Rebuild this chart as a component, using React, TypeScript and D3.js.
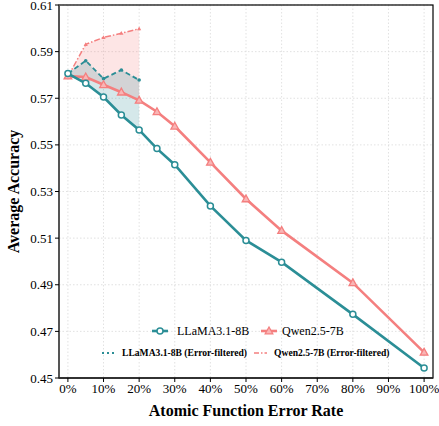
import React from "react";
import * as d3 from "d3";

const errorRates = [0, 5, 10, 15, 20, 25, 30, 40, 50, 60, 80, 100];
const llama = [0.5806, 0.5764, 0.5705, 0.5628, 0.5564, 0.5484, 0.5415, 0.5238, 0.5090, 0.4997, 0.4773, 0.4543];
const qwen = [0.5795, 0.5791, 0.5758, 0.5726, 0.5691, 0.5642, 0.5580, 0.5425, 0.5268, 0.5132, 0.4908, 0.4610];
const filteredRates = [0, 5, 10, 15, 20];
const llamaFiltered = [0.5806, 0.5861, 0.5784, 0.5821, 0.5778];
const qwenFiltered = [0.5793, 0.5931, 0.5961, 0.5979, 0.5998];
const yTicks = [0.45, 0.47, 0.49, 0.51, 0.53, 0.55, 0.57, 0.59, 0.61];
const xTicks = [0, 10, 20, 30, 40, 50, 60, 70, 80, 90, 100];

const TEAL = "#2b8e96";
const PINK = "#f47f7f";
const FONT = "'Liberation Serif', 'Times New Roman', serif";

export default function App() {
  const W = 439, H = 426;
  const left = 59, right = 433, top = 5, bottom = 378;
  const x = d3.scaleLinear().domain([-2.5, 102.5]).range([left, right]);
  const y = d3.scaleLinear().domain([0.45, 0.61]).range([bottom, top]);

  const line = d3.line<[number, number]>().x(d => x(d[0])).y(d => y(d[1]));
  const pts = (xs: number[], ys: number[]) => xs.map((v, i) => [v, ys[i]] as [number, number]);

  const area = (xs: number[], lo: number[], hi: number[]) =>
    d3.area<number>().x((_, i) => x(xs[i])).y0((_, i) => y(lo[i])).y1((_, i) => y(hi[i]))(xs) || "";

  const llamaPts = pts(errorRates, llama);
  const qwenPts = pts(errorRates, qwen);
  const llamaF = pts(filteredRates, llamaFiltered);
  const qwenF = pts(filteredRates, qwenFiltered);

  const tri = (cx: number, cy: number, r: number) =>
    `M${cx},${cy - r} L${cx + r * 0.95},${cy + r * 0.7} L${cx - r * 0.95},${cy + r * 0.7} Z`;

  return (
    <svg width={W} height={H} style={{ position: "absolute", left: 0, top: 0, background: "#fff" }} fontFamily={FONT}>
      {/* grid */}
      {xTicks.map(t => (
        <line key={"gx" + t} x1={x(t)} x2={x(t)} y1={top} y2={bottom} stroke="#d9d9d9" strokeWidth={0.8} strokeDasharray="1.5,2" />
      ))}
      {yTicks.map(t => (
        <line key={"gy" + t} x1={left} x2={right} y1={y(t)} y2={y(t)} stroke="#d9d9d9" strokeWidth={0.8} strokeDasharray="1.5,2" />
      ))}

      {/* fills */}
      <path d={area(filteredRates, qwen.slice(0, 5), qwenFiltered)} fill={PINK} fillOpacity={0.2} />
      <path d={area(filteredRates, llama.slice(0, 5), llamaFiltered)} fill={TEAL} fillOpacity={0.2} />

      {/* filtered lines */}
      <path d={line(qwenF) || ""} fill="none" stroke={PINK} strokeWidth={1.5} strokeDasharray="6,2,1.5,2" />
      {qwenF.map((p, i) => (
        <path key={"qf" + i} d={tri(x(p[0]), y(p[1]), 2.2)} fill={PINK} />
      ))}
      <path d={line(llamaF) || ""} fill="none" stroke={TEAL} strokeWidth={1.8} strokeDasharray="5,3" />
      {llamaF.map((p, i) => (
        <circle key={"lf" + i} cx={x(p[0])} cy={y(p[1])} r={1.8} fill={TEAL} />
      ))}

      {/* main lines */}
      <path d={line(qwenPts) || ""} fill="none" stroke={PINK} strokeWidth={2.6} />
      {qwenPts.map((p, i) => (
        <path key={"q" + i} d={tri(x(p[0]), y(p[1]), 4)} fill="#f9b5b5" stroke={PINK} strokeWidth={1.3} />
      ))}
      <path d={line(llamaPts) || ""} fill="none" stroke={TEAL} strokeWidth={2.6} />
      {llamaPts.map((p, i) => (
        <circle key={"l" + i} cx={x(p[0])} cy={y(p[1])} r={3} fill="#fff" stroke={TEAL} strokeWidth={1.5} />
      ))}

      {/* spines */}
      <rect x={left} y={top} width={right - left} height={bottom - top} fill="none" stroke="#000" strokeWidth={1.2} />
      <line x1={left} x2={left} y1={top} y2={bottom} stroke="#555" strokeWidth={2} />
      <line x1={left} x2={right} y1={bottom} y2={bottom} stroke="#222" strokeWidth={1.6} />

      {/* ticks */}
      {yTicks.map(t => (
        <g key={"yt" + t}>
          <line x1={left - 4} x2={left} y1={y(t)} y2={y(t)} stroke="#000" strokeWidth={1} />
          <text x={left - 6} y={y(t)} dy="0.35em" textAnchor="end" fontSize={13}>{t.toFixed(2)}</text>
        </g>
      ))}
      {xTicks.map(t => (
        <g key={"xt" + t}>
          <line x1={x(t)} x2={x(t)} y1={bottom} y2={bottom + 4} stroke="#000" strokeWidth={1} />
          <text x={x(t)} y={bottom + 15} textAnchor="middle" fontSize={13}>{t + "%"}</text>
        </g>
      ))}

      {/* axis labels */}
      <text x={(left + right) / 2} y={416} textAnchor="middle" fontSize={16} fontWeight="bold">Atomic Function Error Rate</text>
      <text transform={`translate(19,${(top + bottom) / 2}) rotate(-90)`} textAnchor="middle" fontSize={16} fontWeight="bold">Average Accuracy</text>

      {/* legend */}
      <g>
        <line x1={152} x2={168} y1={331} y2={331} stroke={TEAL} strokeWidth={2.6} />
        <circle cx={160} cy={331} r={3} fill="#fff" stroke={TEAL} strokeWidth={1.5} />
        <text x={177} y={331} dy="0.35em" fontSize={12}>LLaMA3.1-8B</text>
        <line x1={261} x2={277} y1={331} y2={331} stroke={PINK} strokeWidth={2.6} />
        <path d={tri(269, 331, 4)} fill="#f9b5b5" stroke={PINK} strokeWidth={1.3} />
        <text x={282} y={331} dy="0.35em" fontSize={12}>Qwen2.5-7B</text>

        <line x1={102} x2={116} y1={353} y2={353} stroke={TEAL} strokeWidth={1.8} strokeDasharray="2,3" />
        <text x={122} y={353} dy="0.35em" fontSize={9.6} fontWeight="bold">LLaMA3.1-8B (Error-filtered)</text>
        <line x1={254} x2={267} y1={353} y2={353} stroke={PINK} strokeWidth={1.5} strokeDasharray="5,2,1.5,2" />
        <text x={274} y={353} dy="0.35em" fontSize={9.6} fontWeight="bold">Qwen2.5-7B (Error-filtered)</text>
      </g>
    </svg>
  );
}
